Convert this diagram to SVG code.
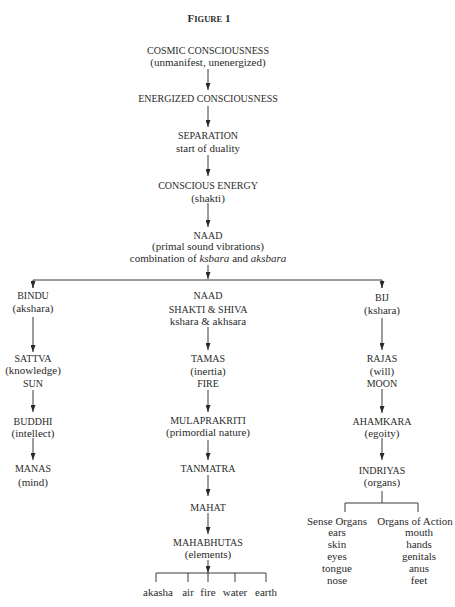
<svg xmlns="http://www.w3.org/2000/svg" width="455" height="607" viewBox="0 0 455 607">
<style>
text{font-family:"Liberation Serif","Times New Roman",serif;fill:#2b2b2b;text-anchor:middle}
.c{font-size:10px}
.l{font-size:11px}
.t{font-size:11px;font-weight:bold}
.k{stroke:#3a3a3a;stroke-width:1;fill:none}
.a{stroke:#3a3a3a;stroke-width:1;fill:none;marker-end:url(#ah)}
</style>
<defs>
<marker id="ah" markerUnits="userSpaceOnUse" markerWidth="7" markerHeight="5" refX="7" refY="2.5" orient="auto">
<path d="M0,0 L7,2.5 L0,5 z" fill="#2b2b2b"/>
</marker>
</defs>
<rect width="455" height="607" fill="#ffffff"/>
<g id="title"><text class="t" x="209" y="22">F<tspan font-size="8.5">IGURE</tspan> 1</text></g>

<g id="connectors">
<line class="a" x1="208" y1="69" x2="208" y2="90"/>
<line class="a" x1="208" y1="106" x2="208" y2="127"/>
<line class="a" x1="208" y1="155" x2="208" y2="176"/>
<line class="a" x1="208" y1="203" x2="208" y2="227"/>
<line class="a" x1="208" y1="265" x2="208" y2="279"/>
<polyline class="k" points="33,288 33,280 382,280 382,288"/>
<line class="a" x1="33" y1="282" x2="33" y2="288"/>
<line class="a" x1="382" y1="282" x2="382" y2="288"/>
<line class="a" x1="33" y1="317" x2="33" y2="352"/>
<line class="a" x1="33" y1="390" x2="33" y2="412"/>
<line class="a" x1="33" y1="438" x2="33" y2="460"/>
<line class="a" x1="208" y1="327" x2="208" y2="350"/>
<line class="a" x1="208" y1="390" x2="208" y2="412"/>
<line class="a" x1="208" y1="440" x2="208" y2="460"/>
<line class="a" x1="208" y1="475" x2="208" y2="496"/>
<line class="a" x1="208" y1="513" x2="208" y2="534"/>
<line class="a" x1="208" y1="560" x2="208" y2="573"/>
<polyline class="k" points="156,582 156,573 266,573 266,582"/>
<line class="k" x1="188" y1="573" x2="188" y2="582"/>
<line class="k" x1="208" y1="573" x2="208" y2="582"/>
<line class="k" x1="235" y1="573" x2="235" y2="582"/>
<line class="a" x1="382" y1="318" x2="382" y2="350"/>
<line class="a" x1="382" y1="389" x2="382" y2="413"/>
<line class="a" x1="382" y1="438" x2="382" y2="460"/>
<line class="k" x1="382" y1="491" x2="382" y2="503"/>
<polyline class="k" points="345,512 345,503 418,503 418,512"/>
</g>

<g id="cosmic"><text class="c" x="208" y="54">COSMIC CONSCIOUSNESS</text><text class="l" x="208" y="66">(unmanifest, unenergized)</text></g>
<g id="energized"><text class="c" x="208" y="101.5">ENERGIZED CONSCIOUSNESS</text></g>
<g id="separation"><text class="c" x="208" y="138.5">SEPARATION</text><text class="l" x="208" y="151.5">start of duality</text></g>
<g id="conscious-energy"><text class="c" x="208" y="188.5">CONSCIOUS ENERGY</text><text class="l" x="208" y="201.5">(shakti)</text></g>
<g id="naad"><text class="c" x="208" y="238.5">NAAD</text><text class="l" x="208" y="249.5">(primal sound vibrations)</text><text class="l" x="208" y="261.5">combination of <tspan font-style="italic">ksbara</tspan> and <tspan font-style="italic">aksbara</tspan></text></g>

<g id="bindu"><text class="c" x="33" y="298.5">BINDU</text><text class="l" x="33" y="311.5">(akshara)</text></g>
<g id="sattva"><text class="c" x="33" y="361.5">SATTVA</text><text class="l" x="33" y="374">(knowledge)</text><text class="c" x="33" y="386.5">SUN</text></g>
<g id="buddhi"><text class="c" x="33" y="424.5">BUDDHI</text><text class="l" x="33" y="436.5">(intellect)</text></g>
<g id="manas"><text class="c" x="33" y="472">MANAS</text><text class="l" x="33" y="485.5">(mind)</text></g>

<g id="naad-shakti-shiva"><text class="c" x="208" y="298.5">NAAD</text><text class="c" x="208" y="312.5">SHAKTI &amp; SHIVA</text><text class="l" x="208" y="324.5">kshara &amp; akhsara</text></g>
<g id="tamas"><text class="c" x="208" y="361.5">TAMAS</text><text class="l" x="208" y="374.5">(inertia)</text><text class="c" x="208" y="386.5">FIRE</text></g>
<g id="mulaprakriti"><text class="c" x="208" y="423.5">MULAPRAKRITI</text><text class="l" x="208" y="435.5">(primordial nature)</text></g>
<g id="tanmatra"><text class="c" x="208" y="471.5">TANMATRA</text></g>
<g id="mahat"><text class="c" x="208" y="510.5">MAHAT</text></g>
<g id="mahabhutas"><text class="c" x="208" y="545.5">MAHABHUTAS</text><text class="l" x="208" y="557.5">(elements)</text></g>
<g id="elements">
<text class="l" x="158" y="595.5">akasha</text>
<text class="l" x="188" y="595.5">air</text>
<text class="l" x="208" y="595.5">fire</text>
<text class="l" x="235" y="595.5">water</text>
<text class="l" x="266" y="595.5">earth</text>
</g>

<g id="bij"><text class="c" x="382" y="300.5">BIJ</text><text class="l" x="382" y="313.5">(kshara)</text></g>
<g id="rajas"><text class="c" x="382" y="361.5">RAJAS</text><text class="l" x="382" y="374.5">(will)</text><text class="c" x="382" y="386.5">MOON</text></g>
<g id="ahamkara"><text class="c" x="382" y="424.5">AHAMKARA</text><text class="l" x="382" y="436.5">(egoity)</text></g>
<g id="indriyas"><text class="c" x="382" y="473.5">INDRIYAS</text><text class="l" x="382" y="486">(organs)</text></g>
<g id="sense-organs">
<text class="l" x="337" y="524.5">Sense Organs</text>
<text class="l" x="337" y="535.5">ears</text>
<text class="l" x="337" y="547.5">skin</text>
<text class="l" x="337" y="559.5">eyes</text>
<text class="l" x="337" y="572">tongue</text>
<text class="l" x="337" y="584">nose</text>
</g>
<g id="organs-of-action">
<text class="l" x="415" y="524.5">Organs of Action</text>
<text class="l" x="419" y="535.5">mouth</text>
<text class="l" x="419" y="547.5">hands</text>
<text class="l" x="419" y="559.5">genitals</text>
<text class="l" x="419" y="572">anus</text>
<text class="l" x="419" y="584">feet</text>
</g>
</svg>
